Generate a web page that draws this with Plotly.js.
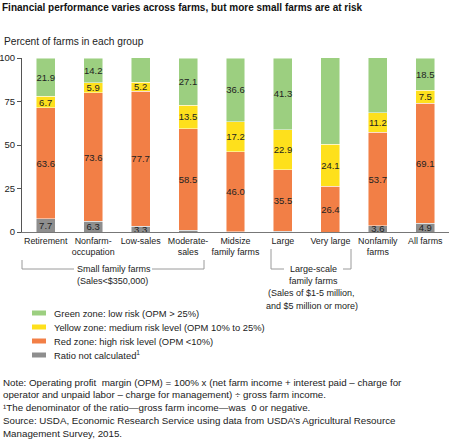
<!DOCTYPE html>
<html>
<head>
<meta charset="utf-8">
<script src="https://cdn.plot.ly/plotly-3.0.1.min.js"></script>
<style>html,body{margin:0;padding:0;background:#fff;}#chart{width:449px;height:439px;}</style>
</head>
<body>
<div id="chart"></div>
<script>
// ---- Data ----
var categories = ["Retirement", "Nonfarm-<br>occupation", "Low-sales", "Moderate-<br>sales", "Midsize<br>family farms", "Large", "Very large", "Nonfamily<br>farms", "All farms"];
var notCalculated = [7.7, 6.3, 3.3, 0.9, 0.2, 0.3, 0.0, 3.6, 4.9];
var redZone       = [63.6, 73.6, 77.7, 58.5, 46.0, 35.5, 26.4, 53.7, 69.1];
var yellowZone    = [6.7, 5.9, 5.2, 13.5, 17.2, 22.9, 24.1, 11.2, 7.5];
var greenZone     = [21.9, 14.2, 13.9, 27.1, 36.6, 41.3, 49.6, 31.6, 18.5];
var seriesNames = ["Ratio not calculated", "Red zone: high risk level (OPM <10%)", "Yellow zone: medium risk level (OPM 10% to 25%)", "Green zone: low risk (OPM > 25%)"];
var yTicks = [0, 25, 50, 75, 100];

// ---- Styles ----
var W = 449, H = 439;
var M = {l: 22, r: 0, t: 58, b: 207};
var NARROW = "'Liberation Sans Narrow', 'Arial Narrow', 'Liberation Sans', Arial, sans-serif";
var REG = "'Liberation Sans', Arial, Helvetica, sans-serif";
var TXT = "#222222";
var colors = {gray: "#8e8e8e", red: "#f27f46", yellow: "#fee01c", green: "#9ccf80"};

var pw = W - M.l - M.r, ph = H - M.t - M.b;
function PX(px) { return (px - M.l) / pw; }
function PY(py) { return (H - M.b - py) / ph; }

function labels(arr) { return arr.map(function (v) { return v >= 1 ? v.toFixed(1) : ""; }); }

function barTrace(vals, name, color) {
  return {
    type: "bar", x: categories, y: vals, name: name,
    marker: {color: color, line: {color: "rgba(255,255,255,0.8)", width: 0.6}},
    text: labels(vals), textposition: "inside", insidetextanchor: "middle",
    textangle: 0, textfont: {family: NARROW, size: 9.5, color: TXT},
    cliponaxis: false,
    hoverinfo: "skip", showlegend: false
  };
}

var data = [
  barTrace(notCalculated, seriesNames[0], colors.gray),
  barTrace(redZone, seriesNames[1], colors.red),
  barTrace(yellowZone, seriesNames[2], colors.yellow),
  barTrace(greenZone, seriesNames[3], colors.green)
];

var shapes = [];
var annotations = [];
var bracketColor = "#9a9a9a";
function line(x0, y0, x1, y1) {
  shapes.push({type: "line", xref: "paper", yref: "paper", x0: PX(x0), y0: PY(y0), x1: PX(x1), y1: PY(y1),
    line: {color: bracketColor, width: 1}});
}
function text(t, x, y, opts) {
  opts = opts || {};
  annotations.push({text: t, xref: "paper", yref: "paper", x: PX(x), y: PY(y),
    xanchor: opts.xanchor || "center", yanchor: "middle", showarrow: false, align: opts.xanchor || "center",
    font: {family: opts.family || NARROW, size: opts.size || 9, color: opts.color || TXT}});
}

// Small family farms bracket
line(22, 260, 22, 269); line(22, 269, 74, 269); line(152, 269, 204, 269); line(204, 260, 204, 269);
text("Small family farms", 113.5, 269);
text("(Sales<$350,000)", 112.5, 281);
// Large-scale bracket
line(271, 249, 271, 269); line(271, 269, 284, 269); line(343, 269, 351, 269); line(351, 249, 351, 269);
text("Large-scale", 313, 269);
text("family farms", 313, 281);
text("(Sales of $1-5 million,", 311, 293);
text("and $5 million or more)", 312, 306);

// Legend (manual)
var legendItems = [
  [seriesNames[3], colors.green],
  [seriesNames[2], colors.yellow],
  [seriesNames[1], colors.red],
  [seriesNames[0] + "<sup>1</sup>", colors.gray]
];
legendItems.forEach(function (it, i) {
  var cy = 313 + i * 14;
  shapes.push({type: "rect", xref: "paper", yref: "paper", x0: PX(32), x1: PX(46), y0: PY(cy - 2.5), y1: PY(cy + 2.5),
    fillcolor: it[1], line: {width: 0}});
  text(it[0], 52, cy, {xanchor: "left", size: 9.4});
});

// Axis title
text("Percent of farms in each group", 2, 42, {xanchor: "left", family: REG, size: 10.2, color: "#222"});

// Notes
var notes = [
  "Note: Operating profit  margin (OPM) = 100% x (net farm income + interest paid – charge for",
  "operator and unpaid labor – charge for management) ÷ gross farm income.",
  "¹The denominator of the ratio—gross farm income—was  0 or negative.",
  "Source: USDA, Economic Research Service using data from USDA’s Agricultural Resource",
  "Management Survey, 2015."
];
notes.forEach(function (n, i) {
  text(n, 1, 382 + i * 12.8, {xanchor: "left", family: REG, size: 9.75, color: "#222"});
});

var layout = {
  width: W, height: H,
  margin: M,
  paper_bgcolor: "#fff", plot_bgcolor: "#fff",
  barmode: "stack", bargap: 0.6,
  title: {text: "<b>Financial performance varies across farms, but more small farms are at risk</b>",
    xref: "container", yref: "container", x: 2 / W, xanchor: "left", y: 1 - 7 / H, yanchor: "middle",
    font: {family: REG, size: 10, color: "#111"}},
  xaxis: {showline: true, linecolor: "#777", linewidth: 1, ticks: "", showgrid: false, zeroline: false,
    tickangle: 0, tickfont: {family: NARROW, size: 8.9, color: TXT}, fixedrange: true, automargin: false},
  yaxis: {range: [0, 100], tickvals: yTicks, showline: true, linecolor: "#555", linewidth: 1,
    ticks: "outside", ticklen: 4, tickcolor: "#555", showgrid: false, zeroline: false,
    tickfont: {family: REG, size: 9.5, color: TXT}, fixedrange: true, automargin: false},
  uniformtext: {mode: "show", minsize: 9.5},
  shapes: shapes, annotations: annotations,
  showlegend: false
};

Plotly.newPlot("chart", data, layout, {staticPlot: true, displayModeBar: false});
</script>
</body>
</html>
